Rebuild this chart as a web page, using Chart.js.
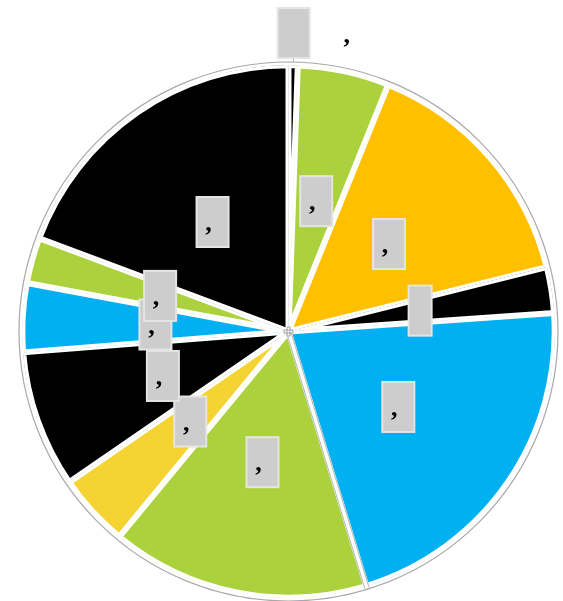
<!DOCTYPE html>
<html>
<head>
<meta charset="utf-8">
<script src="https://cdn.jsdelivr.net/npm/chart.js@4.4.1/dist/chart.umd.min.js"></script>
<style>
  html, body { margin: 0; padding: 0; background: #ffffff; }
  #wrap { width: 563px; height: 601px; position: relative; }
</style>
</head>
<body>
<div id="wrap"><canvas id="c" width="563" height="601"></canvas></div>
<script>
// ---- data ----
const categories = ['Category 1','Category 2','Category 3','Category 4','Category 5','Category 6','Category 7','Category 8','Category 9','Category 10','Category 11'];
const values = [2, 20, 54, 10, 77, 56.5, 16, 30, 15, 10, 69.5];
const labelTexts = [',', ',', ',', '', ',', ',', ',', ',', ',', ',', ','];

// ---- styles ----
const sliceColors = ['#000000','#ABD13C','#FFC000','#000000','#00B0F0','#ABD13C','#F5D333','#000000','#00B0F0','#ABD13C','#000000'];
const outsideIndex = 0;
const narrowIndex = 3;
const highlightIndex = 4;

const decorPlugin = {
  id: 'decor',
  beforeDatasetsDraw(chart) {
    const arc = chart.getDatasetMeta(0).data[0];
    if (!arc) return;
    const p = arc.getProps(['x','y','outerRadius'], true);
    const ctx = chart.ctx;
    ctx.save();
    ctx.beginPath();
    ctx.arc(p.x, p.y, p.outerRadius + 3, 0, Math.PI * 2);
    ctx.strokeStyle = '#A8A8A8';
    ctx.lineWidth = 1.2;
    ctx.stroke();
    ctx.restore();
  },
  afterDatasetsDraw(chart) {
    const meta = chart.getDatasetMeta(0);
    const ctx = chart.ctx;
    ctx.save();
    const h = meta.data[highlightIndex];
    if (h) {
      const q = h.getProps(['x','y','endAngle','outerRadius'], true);
      const a = q.endAngle;
      const nx = -Math.sin(a), ny = Math.cos(a);
      ctx.strokeStyle = '#B4B4B4';
      ctx.lineWidth = 1;
      [-2.2, 2.2].forEach(o => {
        ctx.beginPath();
        ctx.moveTo(q.x + nx * o, q.y + ny * o);
        ctx.lineTo(q.x + Math.cos(a) * (q.outerRadius + 2) + nx * o, q.y + Math.sin(a) * (q.outerRadius + 2) + ny * o);
        ctx.stroke();
      });
      ctx.strokeStyle = '#A0A0A0';
      ctx.fillStyle = '#FFFFFF';
      ctx.lineWidth = 1;
      ctx.beginPath();
      ctx.rect(q.x - 1.5, q.y - 4.5, 3, 9);
      ctx.rect(q.x - 4.5, q.y - 1.5, 9, 3);
      ctx.fill();
      ctx.stroke();
    }
    meta.data.forEach((arc, i) => {
      const p = arc.getProps(['x','y','startAngle','endAngle','outerRadius'], true);
      const mid = (p.startAngle + p.endAngle) / 2;
      const r = i === outsideIndex ? p.outerRadius + 32 : p.outerRadius * 0.5;
      const cx = p.x + Math.cos(mid) * r;
      const cy = p.y + Math.sin(mid) * r;
      const w = i === narrowIndex ? 23 : 32;
      const bh = 50;
      if (i === outsideIndex) {
        ctx.strokeStyle = '#B0B0B0';
        ctx.lineWidth = 1;
        ctx.beginPath();
        ctx.moveTo(cx, cy + bh / 2);
        ctx.lineTo(p.x + Math.cos(mid) * (p.outerRadius + 3), p.y + Math.sin(mid) * (p.outerRadius + 3));
        ctx.stroke();
      }
      ctx.fillStyle = '#CDCDCD';
      ctx.fillRect(cx - w / 2, cy - bh / 2, w, bh);
      ctx.strokeStyle = '#E4E4E4';
      ctx.lineWidth = 2;
      ctx.strokeRect(cx - w / 2, cy - bh / 2, w, bh);
      if (labelTexts[i]) {
        ctx.fillStyle = '#000000';
        ctx.font = 'bold 26px "Liberation Serif", "DejaVu Serif", serif';
        ctx.textAlign = 'center';
        ctx.textBaseline = 'alphabetic';
        if (i === outsideIndex) {
          ctx.fillText(labelTexts[i], cx + 53, cy + 10);
        } else {
          ctx.fillText(labelTexts[i], cx - 4, cy + 9);
        }
      }
    });
    ctx.restore();
  }
};

new Chart(document.getElementById('c'), {
  type: 'pie',
  data: {
    labels: categories,
    datasets: [{
      data: values,
      backgroundColor: sliceColors,
      borderColor: '#FFFFFF',
      borderWidth: 3,
      borderAlign: 'inner'
    }]
  },
  options: {
    responsive: false,
    animation: false,
    layout: { padding: { left: 22, right: 8, top: 64, bottom: 2 } },
    plugins: {
      legend: { display: false },
      tooltip: { enabled: false }
    }
  },
  plugins: [decorPlugin]
});
</script>
</body>
</html>
